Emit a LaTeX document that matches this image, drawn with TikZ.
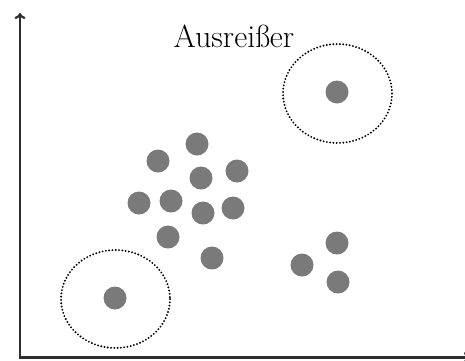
\documentclass[tikz,border=0pt]{standalone}
\usepackage{fontspec}
\usetikzlibrary{arrows.meta}
\begin{document}
\begin{tikzpicture}[x=1pt,y=-1pt,
  dot/.style={circle,fill=black!52,minimum size=23pt,inner sep=0pt},
  ring/.style={draw=black,line width=2.1pt,dash pattern=on 0pt off 3.3pt,line cap=round},
  axis/.style={line width=2.2pt,draw=black!82}]
\useasboundingbox (0,0) rectangle (465,360);
\coordinate (O) at (20,357.5);
\coordinate (Ytop) at (20,13);
\coordinate (Xend) at (470,357.5);
\draw[axis,-{To[length=6pt,width=11pt]}] (O) -- (Ytop);
\draw[axis,-{To[length=6pt,width=11pt]}] (18.9,357.5) -- (Xend);
\node[font=\fontsize{32}{34}\selectfont] (lab) at (234,36) {Ausreißer};
\draw[ring] (337.5,93.5) ellipse [x radius=54.5, y radius=49.5];
\draw[ring] (115.5,299) ellipse [x radius=54.5, y radius=49];
\node[dot] (p1) at (337,92) {};
\node[dot] (p2) at (197,144) {};
\node[dot] (p3) at (158,161) {};
\node[dot] (p4) at (201,178) {};
\node[dot] (p5) at (237,171) {};
\node[dot] (p6) at (139,203) {};
\node[dot] (p7) at (171,201) {};
\node[dot] (p8) at (203,213) {};
\node[dot] (p9) at (233,208) {};
\node[dot] (p10) at (168,237) {};
\node[dot] (p11) at (212,258) {};
\node[dot] (p12) at (302,265) {};
\node[dot] (p13) at (337,243) {};
\node[dot] (p14) at (338,282) {};
\node[dot] (p15) at (115,298) {};
\end{tikzpicture}
\end{document}
